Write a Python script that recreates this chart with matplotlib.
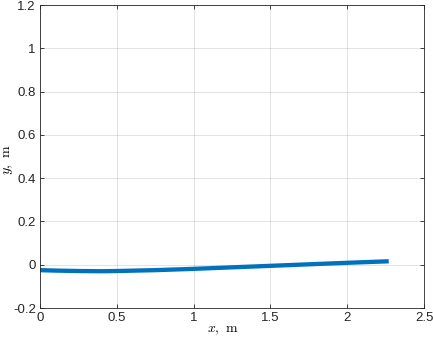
import numpy as np
import matplotlib.pyplot as plt

plt.rcParams['font.family'] = ['Liberation Sans', 'DejaVu Sans']
plt.rcParams['mathtext.fontset'] = 'cm'

# beam deflection
x_m = [0.0, 0.1, 0.25, 0.4, 0.5, 0.75, 1.0, 1.25, 1.5, 1.75, 2.0, 2.27]
y_m = [-0.025, -0.027, -0.029, -0.030, -0.029, -0.025, -0.019, -0.012, -0.005, 0.002, 0.009, 0.016]

xticks = [0, 0.5, 1, 1.5, 2, 2.5]
yticks = [-0.2, 0, 0.2, 0.4, 0.6, 0.8, 1, 1.2]

fig = plt.figure(figsize=(4.33, 3.43), dpi=100)
ax = fig.add_axes([0.0924, 0.102, 0.887, 0.883])

ax.plot(x_m, y_m, color='#0072BD', linewidth=3.1, solid_capstyle='butt')

ax.set_xlim(0, 2.5)
ax.set_ylim(-0.2, 1.2)
ax.set_xticks(xticks)
ax.set_yticks(yticks)
ax.set_xticklabels(['0', '0.5', '1', '1.5', '2', '2.5'])
ax.set_yticklabels(['-0.2', '0', '0.2', '0.4', '0.6', '0.8', '1', '1.2'])
ax.tick_params(direction='in', length=3, width=0.6, labelsize=9.5, colors='#262626',
               top=True, right=True, pad=3)
ax.grid(True, color='#262626', alpha=0.15, linewidth=0.6)
for s in ax.spines.values():
    s.set_color('#262626')
    s.set_linewidth(0.6)

ax.set_xlabel(r'$x,\ \mathrm{m}$', fontsize=10)
ax.set_ylabel(r'$y,\ \mathrm{m}$', fontsize=10)
ax.xaxis.set_label_coords(0.475, -0.048)
ax.yaxis.set_label_coords(-0.066, 0.49)

fig.savefig('out.png', dpi=100)
